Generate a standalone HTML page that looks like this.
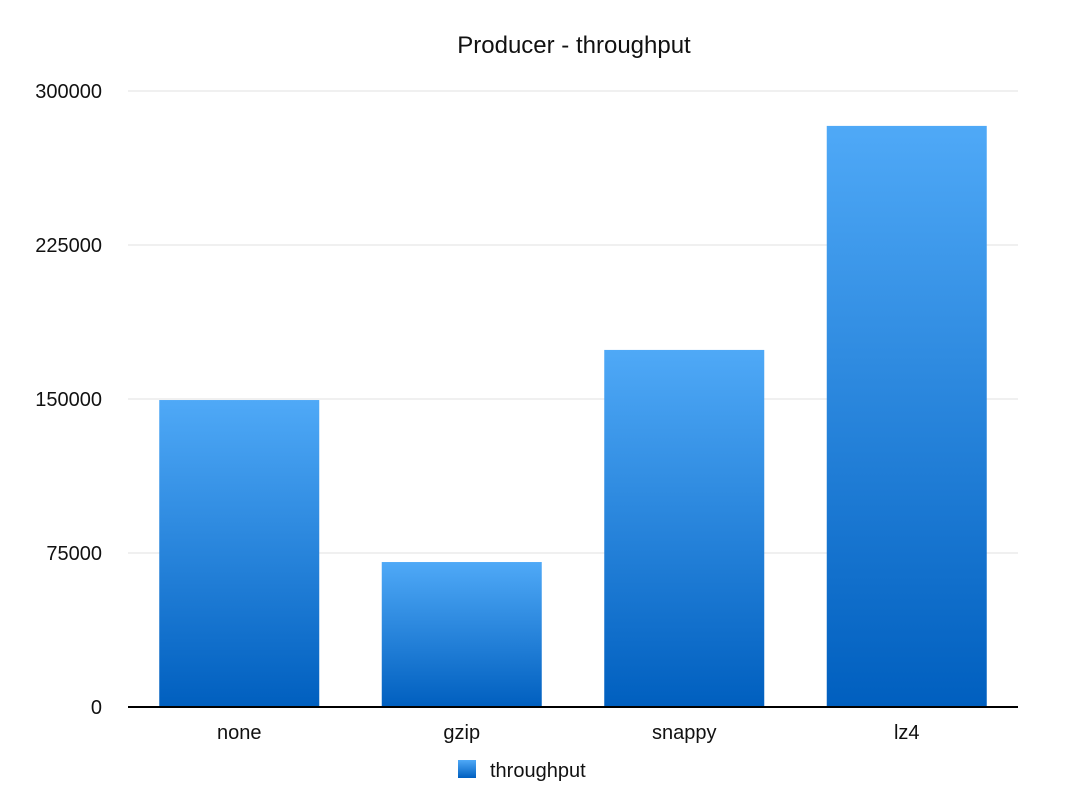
<!DOCTYPE html>
<html><head><meta charset="utf-8"><style>
body{margin:0;background:#fff;}
svg text{font-family:"Liberation Sans",sans-serif;fill:#111;}
</style></head><body>
<svg id="chart" width="1078" height="802" xmlns="http://www.w3.org/2000/svg">
<defs><linearGradient id="bg" x1="0" y1="0" x2="0" y2="1"><stop offset="0" stop-color="#4fa9f7"/><stop offset="1" stop-color="#005fbf"/></linearGradient></defs>
<text x="574" y="53" font-size="24" text-anchor="middle">Producer - throughput</text>
<g id="grid"></g><g id="bars"></g><g id="xlabels"></g>
<line x1="128" y1="707" x2="1018" y2="707" stroke="#000" stroke-width="2"/>
<rect x="458" y="760" width="18" height="18" fill="url(#bg)"/>
<text x="490" y="777" font-size="20">throughput</text>
</svg>
<script>
const categories=["none","gzip","snappy","lz4"];
const values=[149500,70600,173900,283000];
const ticks=[0,75000,150000,225000,300000];
const NS="http://www.w3.org/2000/svg";
const x0=128,x1=1018,yb=707,yt=91,ymax=300000;
const y=v=>yb-(v/ymax)*(yb-yt);
const step=(x1-x0)/categories.length;
const xc=i=>x0+step*(i+0.5);
function mk(t,a,p){const e=document.createElementNS(NS,t);for(const k in a)e.setAttribute(k,a[k]);p.appendChild(e);return e;}
const g=document.getElementById('grid');
ticks.forEach(t=>{
 if(t>0){const l=mk('line',{x1:x0,x2:x1,y1:y(t),y2:y(t),stroke:'#e2e2e2','stroke-width':1},g);
 
 }
 const tx=mk('text',{x:102,y:y(t)+7,'font-size':20,'text-anchor':'end'},g);tx.textContent=t;
 
 
});
const b=document.getElementById('bars'),xl=document.getElementById('xlabels');
categories.forEach((c,i)=>{
 const r=mk('rect',{x:xc(i)-80,y:y(values[i]),width:160,height:yb-y(values[i]),fill:'url(#bg)'},b);
 
 
 const t=mk('text',{x:xc(i),y:739,'font-size':20,'text-anchor':'middle'},xl);t.textContent=c;
 
 
});
</script>
</body></html>
